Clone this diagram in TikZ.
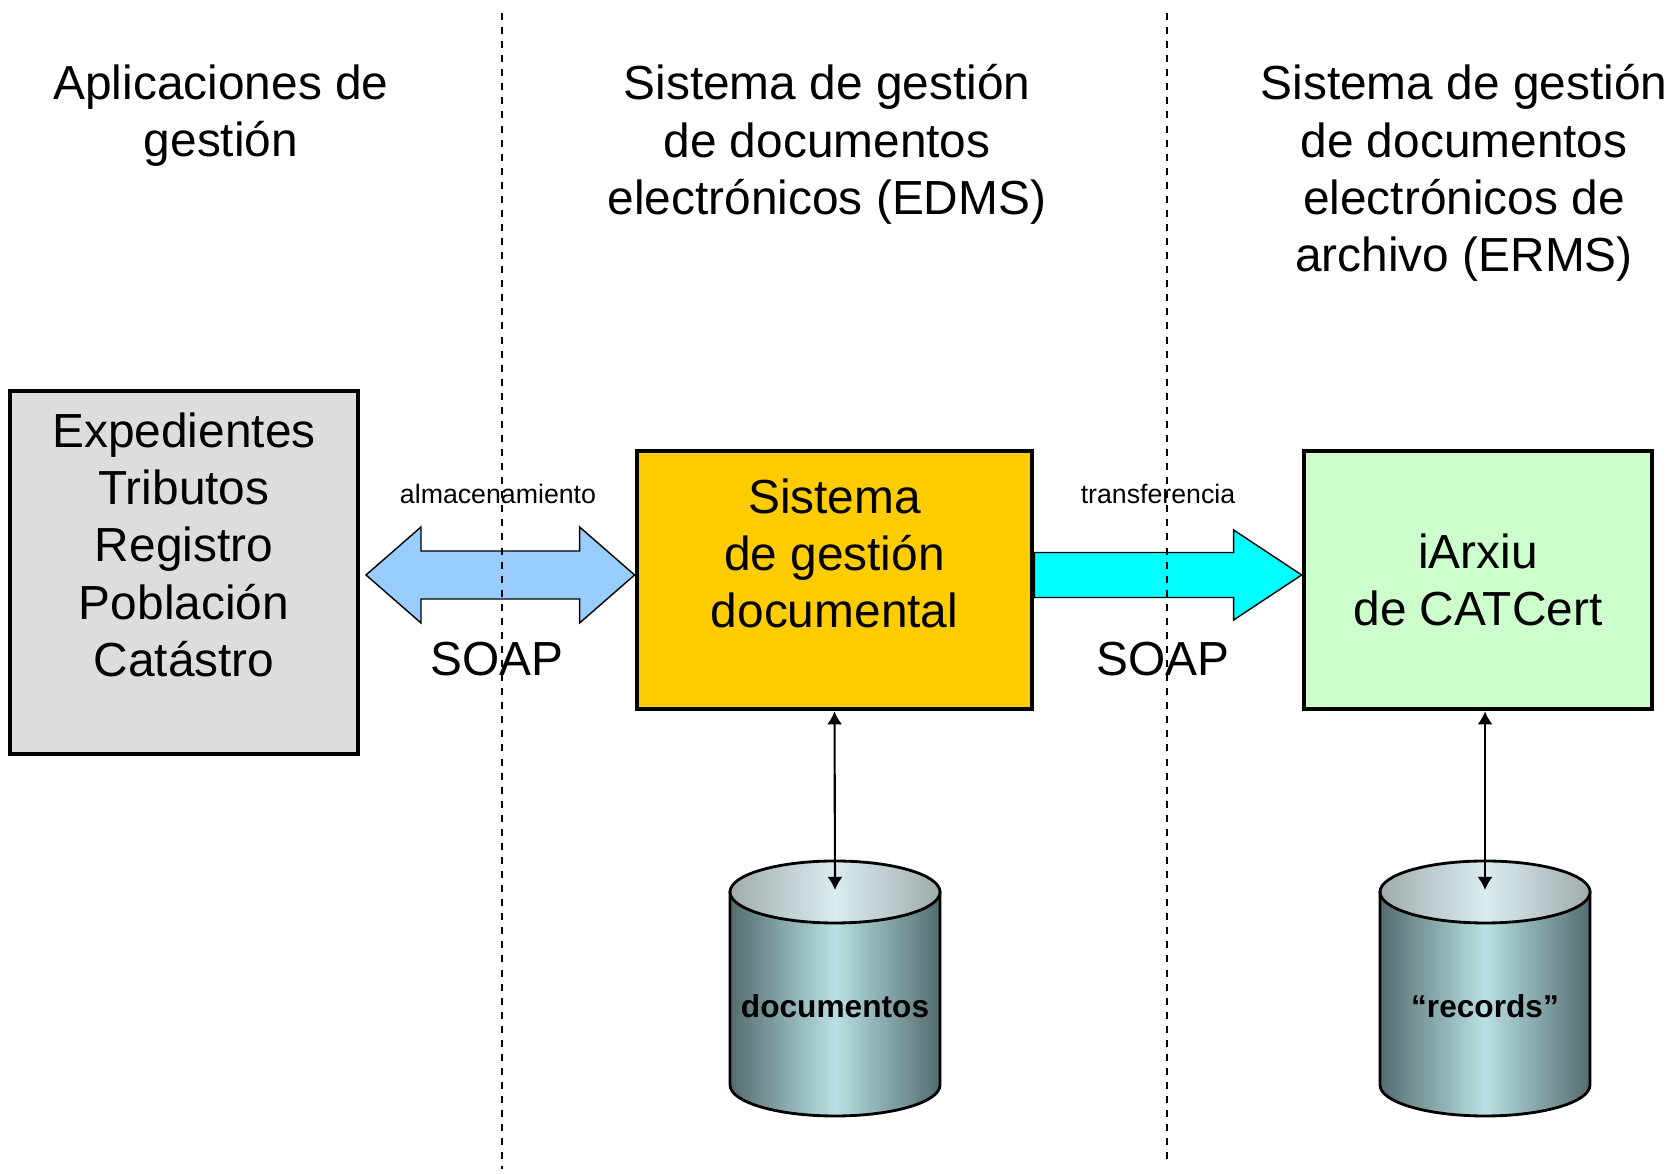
\documentclass[tikz,border=0pt]{standalone}
\usepackage{fontspec}
\setmainfont{Liberation Sans}
\usetikzlibrary{arrows.meta,calc}
\definecolor{apgray}{RGB}{221,221,221}
\definecolor{dmsyellow}{RGB}{255,204,0}
\definecolor{arxgreen}{RGB}{204,255,204}
\definecolor{soapblue}{RGB}{153,204,255}
\definecolor{xfercyan}{RGB}{0,255,255}
\definecolor{cyldark}{RGB}{84,108,110}
\definecolor{cyllight}{RGB}{185,224,228}
\definecolor{topdark}{RGB}{160,172,172}
\definecolor{toplight}{RGB}{218,236,240}

\begin{document}
\begin{tikzpicture}[x=0.01cm,y=0.01cm,
    title/.style={align=center,inner sep=0pt,anchor=north,font=\fontsize{13.6}{16.3}\selectfont},
    big/.style={align=center,inner sep=0pt,font=\fontsize{13.6}{16.3}\selectfont},
    small/.style={inner sep=0pt,font=\fontsize{7.6}{9}\selectfont},
    block/.style={draw,line width=1.3pt,inner sep=0pt},
    fat/.style={draw,line width=0.4pt},
    link/.style={{Latex[length=3.7pt,width=4.3pt]}-{Latex[length=3.7pt,width=4.3pt]},line width=0.6pt},
    sep/.style={line width=0.5pt,dash pattern=on 2pt off 2pt}]
\useasboundingbox (0,0) rectangle (1671,1174);

% column titles
\node[title] (t1) at (221,1110) {Aplicaciones de\\gestión};
\node[title] (t2) at (827,1110) {Sistema de gestión\\de documentos\\electrónicos (EDMS)};
\node[title] (t3) at (1464,1110) {Sistema de gestión\\de documentos\\electrónicos de\\archivo (ERMS)};

% boxes
\node[block,fill=apgray,minimum width=3.48cm,minimum height=3.63cm] (apps) at (184,601.5) {};
\node[big,anchor=north] (appstxt) at (184,762) {Expedientes\\Tributos\\Registro\\Población\\Catástro};
\node[block,fill=dmsyellow,minimum width=3.95cm,minimum height=2.58cm] (dms) at (834.5,594) {};
\node[big,anchor=north] (dmstxt) at (834.5,696) {Sistema\\de gestión\\documental};
\node[block,big,fill=arxgreen,minimum width=3.48cm,minimum height=2.58cm] (arx) at (1478,594) {iArxiu\\de CATCert};

% block arrows
\coordinate (l) at (366,599);
\coordinate (r) at (dms.west |- l);
\draw[fat,fill=soapblue] (l) -- ++(55,48) -- ++(0,-24) -- ($(r)+(-55,24)$) -- ++(0,24) -- (r)
    -- ++(-55,-48) -- ++(0,24) -- ($(l)+(55,-24)$) -- ++(0,-24) -- cycle;
\coordinate (c0) at (dms.east |- l);
\coordinate (c1) at (arx.west |- l);
\draw[fat,fill=xfercyan] ($(c0)+(0,22.5)$) -- ($(c1)+(-68,22.5)$) -- ++(0,22.5) -- (c1)
    -- ++(-68,-45) -- ++(0,22.5) -- ($(c0)+(0,-22.5)$) -- cycle;
\node[small] (alm) at (498,680) {almacenamiento};
\node[small] (tra) at (1158,680) {transferencia};
\node[big] (soap1) at (497,515) {SOAP};
\node[big] (soap2) at (1163,515) {SOAP};

% stores
\foreach \cx/\nm/\txt in {835/docs/documentos,1485/recs/“records”}{
  \shadedraw[left color=cyldark,right color=cyldark,middle color=cyllight,line width=0.8pt]
    (\cx-105,282) -- (\cx-105,89) arc[start angle=180,end angle=360,x radius=105,y radius=31]
    -- (\cx+105,282) -- cycle;
  \shadedraw[left color=topdark,right color=topdark,middle color=toplight,line width=0.8pt]
    (\cx,282) ellipse[x radius=105,y radius=31];
  \node[font=\bfseries\fontsize{9}{11}\selectfont] (\nm) at (\cx,168) {\txt};
  \coordinate (\nm-top) at (\cx,284);
}
\draw[link] (dms.south) -- (docs-top);
\draw[link] (arx.south -| recs-top) -- (recs-top);

% separators
\draw[sep] (502,1161) -- (502,5);
\draw[sep] (1167,1161) -- (1167,12);
\end{tikzpicture}
\end{document}
